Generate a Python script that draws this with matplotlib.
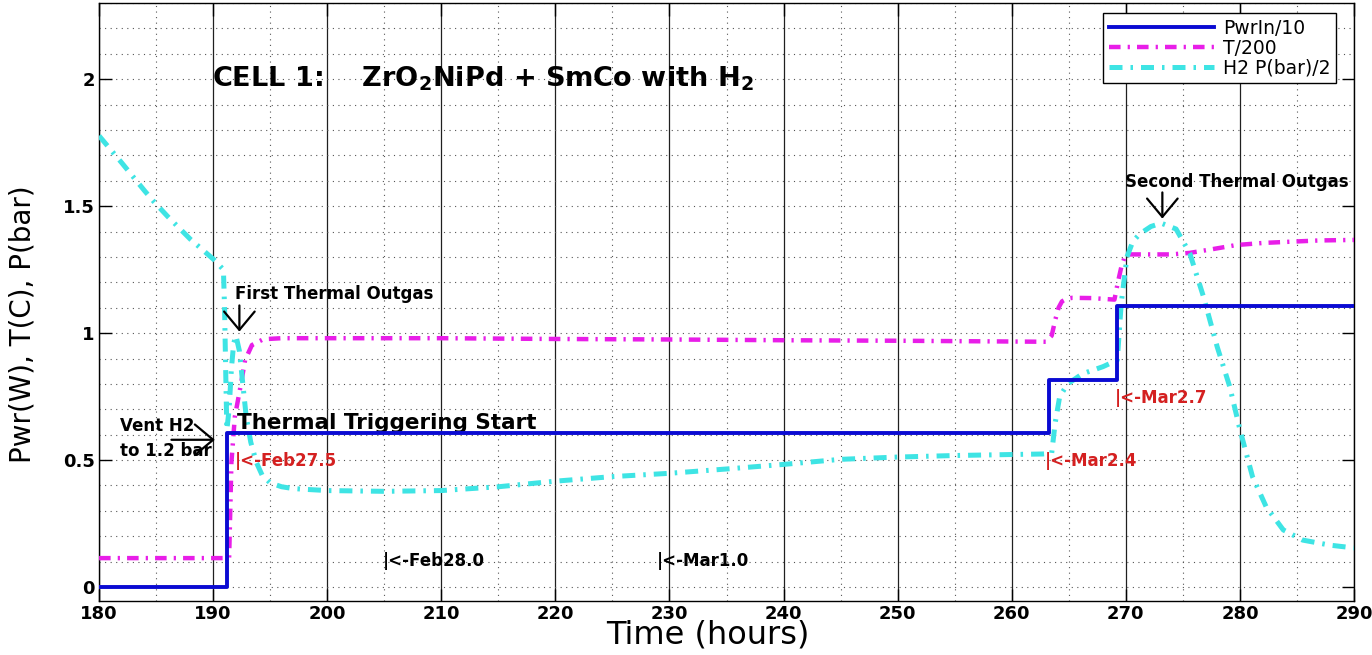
import matplotlib
matplotlib.use("Agg")
import matplotlib.pyplot as plt
import matplotlib.ticker as ticker

# Pwr/10 step trace
pwr_t = [180, 191.2, 191.2, 263.3, 263.3, 269.25, 269.25, 290]
pwr_v = [0, 0, 0.605, 0.605, 0.815, 0.815, 1.108, 1.108]

# T/200 trace
temp_t = [180, 191.4, 191.5, 191.6, 191.9, 192.4, 192.8, 193.4, 194.4, 196, 200, 210, 220,
          230, 240, 250, 260, 263.0, 263.5, 263.8, 264.1, 264.4, 264.8, 265.3, 267, 269.0,
          269.3, 269.6, 269.9, 270.3, 272, 274, 275.6, 277.5, 279.7, 282, 284.4, 287, 290]
temp_v = [0.114, 0.114, 0.30, 0.49, 0.67, 0.79, 0.894, 0.953, 0.976, 0.98, 0.98, 0.98, 0.977,
          0.975, 0.972, 0.97, 0.967, 0.966, 0.99, 1.05, 1.10, 1.125, 1.135, 1.139, 1.138, 1.132,
          1.20, 1.26, 1.30, 1.31, 1.31, 1.31, 1.316, 1.33, 1.347, 1.355, 1.36, 1.365, 1.367]

# H2 P(bar)/2 trace
pres_t = [180, 182, 184, 184.8, 186, 188, 190.1, 190.9, 191.0, 191.1, 191.2, 191.4, 191.6,
          191.8, 192.0, 192.3, 192.6, 192.9, 193.3, 193.8, 194.3, 195, 196, 197, 198, 200,
          205, 210, 215, 220, 225, 230, 235, 240, 245, 250, 255, 260, 262.7, 263.5, 263.8,
          264.2, 264.9, 266.2, 268.0, 269.25, 269.6, 270.1, 270.6, 271.2, 272.2, 273.1,
          274.4, 275.6, 276.8, 278.0, 279.1, 280.0, 281.1, 282.3, 283.8, 285.5, 287.9, 290]
pres_v = [1.777, 1.67, 1.56, 1.518, 1.46, 1.37, 1.288, 1.25, 1.10, 0.85, 0.62, 0.70, 0.86,
          0.96, 0.99, 0.93, 0.80, 0.67, 0.57, 0.49, 0.44, 0.41, 0.395, 0.388, 0.385, 0.38,
          0.377, 0.38, 0.395, 0.417, 0.435, 0.448, 0.465, 0.483, 0.503, 0.512, 0.518, 0.522,
          0.524, 0.527, 0.645, 0.75, 0.80, 0.84, 0.868, 0.894, 1.12, 1.30, 1.36, 1.39, 1.42,
          1.433, 1.41, 1.315, 1.144, 0.947, 0.79, 0.62, 0.435, 0.316, 0.225, 0.185, 0.165, 0.154]

legend_labels = ["PwrIn/10", "T/200", "H2 P(bar)/2"]

plt.rcParams['font.family'] = 'DejaVu Sans'
plt.rcParams['font.weight'] = 'bold'
plt.rcParams['mathtext.default'] = 'bf'

BLUE = "#0a0ad2"
MAGENTA = "#e81ee8"
CYAN = "#3ee4e4"
RED = "#d42020"
DASHDOT = (0, (2.6, 1.6, 0.5, 1.6))
ARROW = dict(arrowstyle='->,head_length=0.6,head_width=0.5', lw=1.6, color='k',
             mutation_scale=22)


def plot():
    """
        Plot the three traces with the notes.
    """
    fig = plt.figure(figsize=(13.72, 6.55), dpi=100)
    ax = fig.add_axes([0.0722, 0.0824, 0.9147, 0.913])

    ax.plot(pwr_t, pwr_v, color=BLUE, lw=2.8, label=legend_labels[0], zorder=4)
    ax.plot(temp_t, temp_v, color=MAGENTA, lw=3.2, ls=DASHDOT, label=legend_labels[1], zorder=3)
    ax.plot(pres_t, pres_v, color=CYAN, lw=3.6, ls=DASHDOT, label=legend_labels[2], zorder=3)

    ax.set_xlim(180, 290)
    ax.set_ylim(-0.055, 2.30)
    ax.xaxis.set_major_locator(ticker.MultipleLocator(10))
    ax.xaxis.set_minor_locator(ticker.MultipleLocator(5))
    ax.yaxis.set_major_locator(ticker.MultipleLocator(0.5))
    ax.yaxis.set_minor_locator(ticker.MultipleLocator(0.1))
    ax.yaxis.set_major_formatter(ticker.FormatStrFormatter('%g'))

    # matlab like grid
    ax.grid(which='major', axis='x', ls='-', color='#202020', lw=0.9)
    ax.grid(which='minor', axis='x', ls=(0, (1, 4)), color='#555555', lw=0.8)
    ax.grid(which='both', axis='y', ls=(0, (1, 4)), color='#555555', lw=0.8)
    ax.set_axisbelow(True)

    ax.tick_params(which='major', direction='in', length=9, width=1, top=True, right=True,
                   labelsize=13, pad=3)
    ax.tick_params(which='minor', length=0)
    for sp in ax.spines.values():
        sp.set_linewidth(1.0)

    ax.set_xlabel("Time (hours)", fontsize=23, fontweight='normal')
    ax.xaxis.label.set_va('baseline')
    ax.xaxis.set_label_coords(0.485, -0.071)
    ax.set_ylabel("Pwr(W), T(C), P(bar)", fontsize=20, fontweight='normal',
                  family=['Liberation Sans Narrow', 'DejaVu Sans'])
    ax.yaxis.set_label_coords(-0.05, 0.463)

    # notes
    ax.text(189.9, 2.0, "CELL 1:    ZrO$_2$NiPd + SmCo with H$_2$", fontsize=19.5,
            va='center', ha='left')
    ax.text(191.9, 1.154, "First Thermal Outgas", fontsize=12, va='center', ha='left')
    ax.annotate("", xy=(192.3, 0.995), xytext=(192.3, 1.12), arrowprops=ARROW)
    ax.text(181.8, 0.635, "Vent H2", fontsize=12, va='center', ha='left')
    ax.text(181.8, 0.535, "to 1.2 bar", fontsize=12, va='center', ha='left')
    ax.annotate("", xy=(190.4, 0.58), xytext=(186.1, 0.58), arrowprops=ARROW)
    ax.text(192.07, 0.645, "Thermal Triggering Start", fontsize=15.5, va='center', ha='left')
    ax.text(191.9, 0.498, "|<-Feb27.5", fontsize=12, color=RED, va='center', ha='left')
    ax.text(204.9, 0.102, "|<-Feb28.0", fontsize=12, va='center', ha='left')
    ax.text(228.9, 0.102, "|<-Mar1.0", fontsize=12, va='center', ha='left')
    ax.text(262.9, 0.497, "|<-Mar2.4", fontsize=12, color=RED, va='center', ha='left')
    ax.text(269.0, 0.746, "|<-Mar2.7", fontsize=12, color=RED, va='center', ha='left')
    ax.text(269.9, 1.597, "Second Thermal Outgas", fontsize=12, va='center', ha='left',
            clip_on=True)
    ax.annotate("", xy=(273.2, 1.44), xytext=(273.2, 1.565), arrowprops=ARROW)

    leg = ax.legend(loc='upper right', bbox_to_anchor=(0.986, 0.983), fancybox=False,
                    edgecolor='k', framealpha=1, prop={'size': 13.5, 'weight': 'normal'},
                    handlelength=5.6, labelspacing=0.05, borderpad=0.3, handletextpad=0.5,
                    borderaxespad=0)
    leg.get_frame().set_linewidth(1.0)

    plt.savefig("out.png", dpi=100)
    plt.clf()


if __name__ == "__main__":
    plot()
